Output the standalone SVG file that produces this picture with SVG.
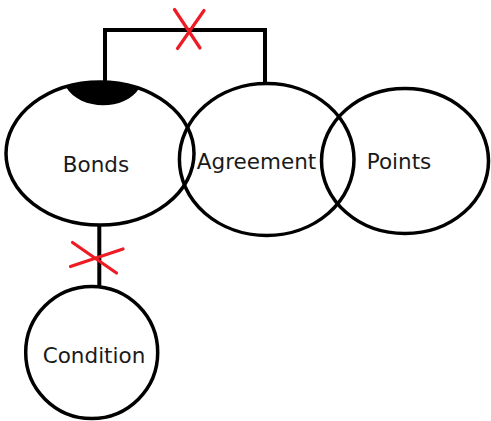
<svg xmlns="http://www.w3.org/2000/svg" width="491" height="421" viewBox="0 0 491 421">
<style>
.shape{fill:none;stroke:#000;stroke-width:3.5}
.line{fill:none;stroke:#000;stroke-width:4}
.cross{fill:none;stroke:#ed1c24;stroke-width:3.2;stroke-linecap:round}
.label{font-family:"DejaVu Sans",Verdana,sans-serif;font-size:21.5px;fill:#1a1a1a}
</style>
<rect width="491" height="421" fill="#fff"/>
<g id="connectors">
<polyline class="line" points="105,82 105,30 265,30 265,83"/>
<line class="line" x1="99.3" y1="224" x2="99.3" y2="287"/>
<line class="cross" x1="174.5" y1="9.5" x2="200" y2="48"/>
<line class="cross" x1="204" y1="10.5" x2="177.5" y2="48.5"/>
<line class="cross" x1="72.5" y1="242.5" x2="116.5" y2="273"/>
<line class="cross" x1="123" y1="249" x2="70.5" y2="266.5"/>
</g>
<g id="bonds">
<ellipse class="shape" cx="100" cy="153.5" rx="94" ry="71.5"/>
<path d="M66,87 A94,71.5 0 0 1 139,88.4 C125,111 80,111 66,87 Z" fill="#000"/>
<text class="label" x="96" y="172" text-anchor="middle">Bonds</text>
</g>
<g id="agreement">
<ellipse class="shape" cx="266.7" cy="159.5" rx="87.3" ry="76"/>
<text class="label" x="256.5" y="169" text-anchor="middle">Agreement</text>
</g>
<g id="points">
<ellipse class="shape" cx="405" cy="161" rx="83.5" ry="72.5"/>
<text class="label" x="399" y="169" text-anchor="middle">Points</text>
</g>
<g id="condition">
<circle class="shape" cx="91.7" cy="352.5" r="66"/>
<text class="label" x="94" y="363" text-anchor="middle">Condition</text>
</g>
</svg>
